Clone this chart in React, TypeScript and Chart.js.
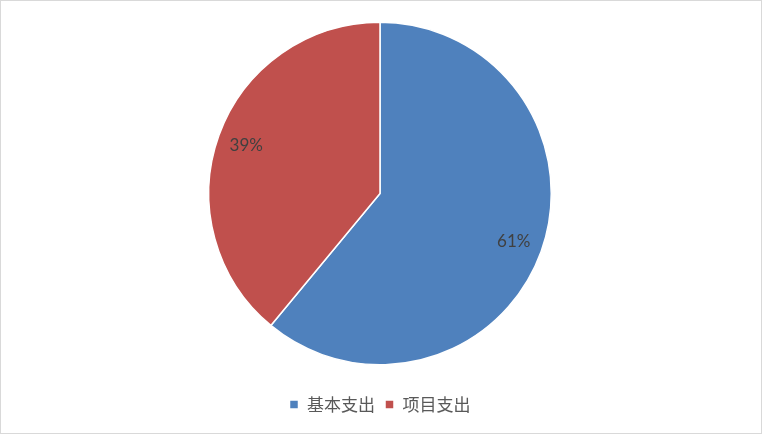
import { Chart, registerables, Plugin } from "chart.js";
import { useEffect, useRef } from "react";

Chart.register(...registerables);

const categories = ["基本支出", "项目支出"];
const shares = [61, 39];
const colors = ["#4F81BD", "#C0504D"];

// draws the percentage inside each slice
const sliceLabels: Plugin<'pie'> = {
	id: 'sliceLabels',
	afterDatasetsDraw(chart) {
		const ctx = chart.ctx;
		const meta = chart.getDatasetMeta(0);
		const total = shares.reduce((a, b) => a + b, 0);
		ctx.save();
		ctx.font = '17px Lato, "Noto Sans", sans-serif';
		ctx.fillStyle = '#404040';
		ctx.textAlign = 'center';
		ctx.textBaseline = 'middle';
		meta.data.forEach((arc: any, i) => {
			const { x, y, startAngle, endAngle, outerRadius } = arc.getProps(['x', 'y', 'startAngle', 'endAngle', 'outerRadius'], true);
			const mid = (startAngle + endAngle) / 2;
			const r = outerRadius * 0.83;
			const pct = Math.round(shares[i] / total * 100) + '%';
			ctx.fillText(pct, x + Math.cos(mid) * r, y + Math.sin(mid) * r);
		});
		ctx.restore();
	}
};

export default function App() {
	const chartRef = useRef<HTMLCanvasElement>(null);
	useEffect(() => {
		if (chartRef.current == null) {
			return;
		}
		const chart = new Chart(chartRef.current, {
			type: 'pie',
			data: {
				labels: categories,
				datasets: [{
					data: shares,
					backgroundColor: colors,
					borderColor: '#ffffff',
					borderWidth: 1.5,
				}]
			},
			options: {
				animation: false,
				responsive: false,
				layout: {
					padding: { top: 0, bottom: 10, left: 207, right: 209 }
				},
				plugins: {
					legend: {
						position: 'bottom',
						labels: {
							boxWidth: 9,
							boxHeight: 9,
							padding: 10,
							color: '#595959',
							font: { size: 17, family: '"Noto Sans CJK SC", sans-serif' }
						}
					},
					tooltip: { enabled: false }
				}
			},
			plugins: [sliceLabels]
		});
		return () => {
			chart.destroy();
		};
	}, []);

	return (
		<div style={{
			position: 'fixed', left: 0, top: 0, width: 762, height: 434,
			border: '1px solid #d9d9d9', boxSizing: 'border-box', background: '#fff'
		}}>
			<canvas ref={chartRef} width={760} height={432} style={{ display: 'block' }} />
		</div>
	);
}
